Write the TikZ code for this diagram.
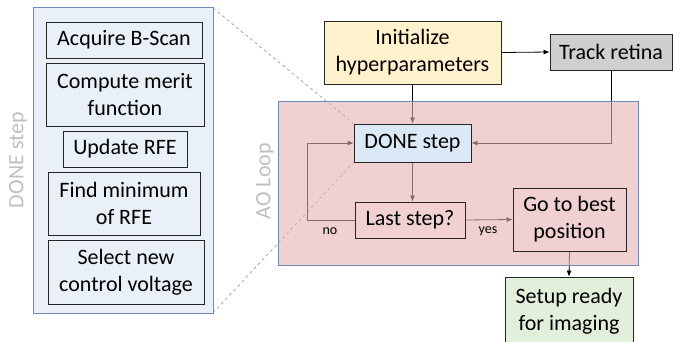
\documentclass[tikz,border=0pt]{standalone}
\usepackage{fontspec}
\setmainfont{Carlito}
\usetikzlibrary{arrows.meta,calc}
\definecolor{PanelClr}{RGB}{234,240,248}
\definecolor{FrameClr}{RGB}{109,138,184}
\definecolor{LoopClr}{RGB}{230,176,176}
\definecolor{StepClr}{RGB}{219,232,246}
\definecolor{InitClr}{RGB}{255,242,204}
\definecolor{TrackClr}{RGB}{208,206,206}
\definecolor{ReadyClr}{RGB}{226,239,218}
\definecolor{TagClr}{RGB}{191,191,191}
\definecolor{ZoomClr}{RGB}{166,166,166}

\pgfdeclarelayer{background}
\pgfdeclarelayer{loop}
\pgfsetlayers{background,loop,main}

\tikzset{
  blk/.style={draw=black!85, line width=0.8pt, align=center, inner sep=0pt,
    font=\fontsize{22}{27}\selectfont},
  flow/.style={line width=0.8pt, -{Latex[length=6pt,width=5pt]}},
  tag/.style={text=TagClr, rotate=90, font=\fontsize{22}{26}\selectfont},
  small/.style={font=\fontsize{14}{16}\selectfont},
}

\begin{document}
\begin{tikzpicture}[x=1pt,y=-1pt]
\clip (0,0) rectangle (673,342);
\useasboundingbox (0,0) rectangle (673,342);

% DONE step, broken down
\draw[FrameClr, fill=PanelClr, line width=1pt] (33,8) rectangle (213,313);
\node[tag] at (18,160) {DONE step};
\node[blk, minimum width=156, minimum height=36] (acq) at (124,40) {Acquire B-Scan};
\node[blk, minimum width=158, minimum height=63] (merit) at (125,94.5) {Compute merit\\function};
\node[blk, minimum width=124, minimum height=36] (upd) at (125,149) {Update RFE};
\node[blk, minimum width=152, minimum height=63] (findmin) at (124,203.5) {Find minimum\\of RFE};
\node[blk, minimum width=156, minimum height=64] (select) at (126,272) {Select new\\control voltage};

% main flow
\node[blk, fill=InitClr, minimum width=177, minimum height=63] (init) at (412.5,52.5) {Initialize\\hyperparameters};
\node[blk, fill=TrackClr, minimum width=122, minimum height=36] (track) at (611,52) {Track retina};
\node[blk, fill=StepClr, minimum width=117, minimum height=38] (done) at (412.5,143) {DONE step};
\node[blk, minimum width=110, minimum height=36] (last) at (410,220) {Last step?};
\node[blk, minimum width=113, minimum height=63] (best) at (569.5,219.5) {Go to best\\position};
\node[blk, fill=ReadyClr, minimum width=128, minimum height=68] (setup) at (569,311) {Setup ready\\for imaging};

\node[tag] at (265,181) {AO Loop};
\node[small] at (330,231) {no};
\node[small] at (488,231) {yes};

% AO loop frame, tints what runs under it
\begin{pgfonlayer}{loop}
\fill[LoopClr, fill opacity=0.6] (278,102) rectangle (638,266);
\draw[FrameClr, line width=1pt] (278,102) rectangle (638,266);
\end{pgfonlayer}

\begin{pgfonlayer}{background}
\draw[ZoomClr, dashed, line width=0.8pt] (213,8) -- (done.north west);
\draw[ZoomClr, dashed, line width=0.8pt] (213,313) -- (done.south west);

\draw[flow] (init.east) -- (track.west);
\draw[flow] (init.south) -- (done.north);
\draw[flow] (track.south) |- (done.east);
\draw[flow] (done.south) -- (done.south |- last.north);
\draw[flow] (last.west) -- ++(-47,0) |- (done.west);
\draw[flow] (last.east) -- (best.west);
\draw[flow] (best.south) -- (setup.north);
\end{pgfonlayer}

\end{tikzpicture}
\end{document}
